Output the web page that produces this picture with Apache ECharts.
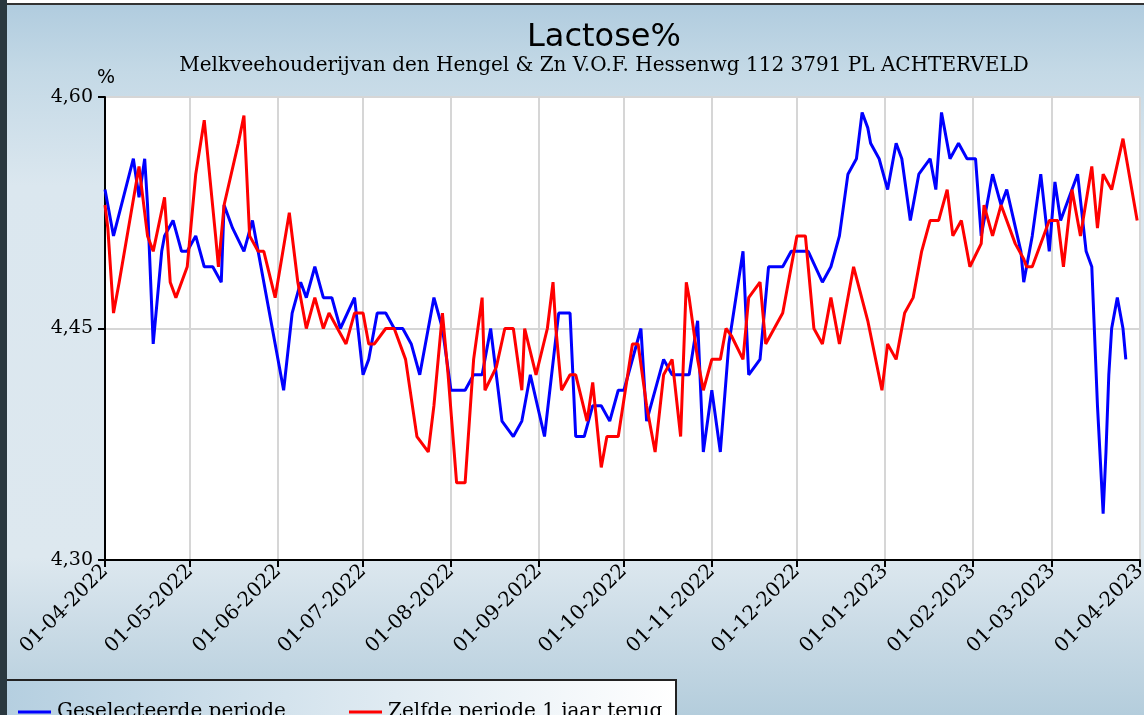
<!DOCTYPE html>
<html><head><meta charset="utf-8">
<script src="https://cdn.jsdelivr.net/npm/echarts@6/dist/echarts.min.js"></script>
<style>
html,body{margin:0;padding:0;width:1144px;height:715px;overflow:hidden;}
body{background:linear-gradient(to bottom,#afcbde 0%,#c4d9e6 10%,#dbe7ef 26%,#dde8ef 78%,#cadbe6 88%,#b4cddc 100%);position:relative;}
#strip{position:absolute;left:0;top:0;width:7px;height:715px;background:#2a383f;}
#topw{position:absolute;left:7px;top:0;width:1137px;height:3px;background:#fff;}
#topl{position:absolute;left:7px;top:3px;width:1137px;height:2px;background:#333;}
#legbox{position:absolute;left:7px;top:679px;width:668px;height:40px;border-top:2px solid #222;border-right:2px solid #222;background:linear-gradient(to right,#b5cfe0,#ffffff);}
#chart{position:absolute;left:0;top:0;width:1144px;height:715px;}
</style></head><body>
<div id="strip"></div><div id="topw"></div><div id="topl"></div><div id="legbox"></div>
<div id="chart"></div>
<script>
const titleText = 'Lactose%';
const subtitleText = 'Melkveehouderijvan den Hengel & Zn V.O.F. Hessenwg 112 3791 PL ACHTERVELD';
const seriesNames = ['Geselecteerde periode', 'Zelfde periode 1 jaar terug'];
const startDate = '01-04-2022';
const endDate = '01-04-2023';
const monthTicks = ['01-04-2022','01-05-2022','01-06-2022','01-07-2022','01-08-2022','01-09-2022','01-10-2022','01-11-2022','01-12-2022','01-01-2023','01-02-2023','01-03-2023','01-04-2023'];
const yTicks = [4.30, 4.45, 4.60];

// days since 01-04-2022
const blueDays = [0,3,10,12,14,15,17,20,21,24,27,29,32,35,38,41,42,45,49,52,54,63,66,69,71,74,77,80,83,88,91,93,96,99,102,105,108,111,116,119,122,127,130,133,136,140,144,147,150,155,160,164,166,169,172,175,178,181,183,189,191,197,200,206,209,211,214,217,220,225,227,231,234,239,242,248,253,256,259,262,265,267,269,270,273,276,279,281,284,287,291,293,295,296,298,301,304,307,309,313,316,318,323,324,327,330,333,335,337,343,346,348,350,352,353,354,355,357,359,360];
const blueVals = [4.54,4.51,4.56,4.535,4.56,4.53,4.44,4.50,4.51,4.52,4.50,4.50,4.51,4.49,4.49,4.48,4.53,4.515,4.50,4.52,4.50,4.41,4.46,4.48,4.47,4.49,4.47,4.47,4.45,4.47,4.42,4.43,4.46,4.46,4.45,4.45,4.44,4.42,4.47,4.45,4.41,4.41,4.42,4.42,4.45,4.39,4.38,4.39,4.42,4.38,4.46,4.46,4.38,4.38,4.40,4.40,4.39,4.41,4.41,4.45,4.39,4.43,4.42,4.42,4.455,4.37,4.41,4.37,4.44,4.50,4.42,4.43,4.49,4.49,4.50,4.50,4.48,4.49,4.51,4.55,4.56,4.59,4.58,4.57,4.56,4.54,4.57,4.56,4.52,4.55,4.56,4.54,4.59,4.58,4.56,4.57,4.56,4.56,4.51,4.55,4.53,4.54,4.50,4.48,4.51,4.55,4.50,4.545,4.52,4.55,4.50,4.49,4.40,4.33,4.37,4.42,4.45,4.47,4.45,4.43];

const redDays = [0,1,3,5,12,13,15,17,21,23,25,29,32,35,39,40,42,47,49,51,54,56,60,65,68,71,74,77,79,82,85,88,91,93,95,99,102,106,110,114,116,119,121,124,127,130,133,134,138,141,144,147,148,152,156,158,159,161,164,166,170,172,175,177,181,186,188,191,194,197,200,203,205,206,209,211,214,217,219,221,225,227,231,233,239,244,247,250,253,256,259,264,269,274,276,279,282,285,288,291,294,297,299,302,305,309,310,313,316,321,324,325,327,331,333,336,338,341,344,348,350,352,355,359,364];
const redVals = [4.53,4.515,4.46,4.48,4.555,4.54,4.51,4.50,4.535,4.48,4.47,4.49,4.55,4.585,4.51,4.49,4.53,4.57,4.588,4.51,4.50,4.50,4.47,4.525,4.48,4.45,4.47,4.45,4.46,4.45,4.44,4.46,4.46,4.44,4.44,4.45,4.45,4.43,4.38,4.37,4.40,4.46,4.42,4.35,4.35,4.43,4.47,4.41,4.425,4.45,4.45,4.41,4.45,4.42,4.45,4.48,4.45,4.41,4.42,4.42,4.39,4.415,4.36,4.38,4.38,4.44,4.44,4.40,4.37,4.42,4.43,4.38,4.48,4.47,4.43,4.41,4.43,4.43,4.45,4.445,4.43,4.47,4.48,4.44,4.46,4.51,4.51,4.45,4.44,4.47,4.44,4.49,4.455,4.41,4.44,4.43,4.46,4.47,4.50,4.52,4.52,4.54,4.51,4.52,4.49,4.505,4.53,4.51,4.53,4.505,4.495,4.49,4.49,4.51,4.52,4.52,4.49,4.54,4.51,4.555,4.515,4.55,4.54,4.573,4.52];

function parseDMY(s){ const p = s.split('-'); return new Date(+p[2], +p[1]-1, +p[0]).getTime(); }
const DAY = 86400000;
const t0 = parseDMY(startDate);
const t1 = parseDMY(endDate);
const tickTs = monthTicks.map(parseDMY);
function build(days, vals){ return days.map((d,i)=>[t0 + d*DAY, vals[i]]); }
function fmtDate(v){
  const i = tickTs.indexOf(v); if (i >= 0) return monthTicks[i];
  const d = new Date(v); return ('0'+d.getDate()).slice(-2)+'-'+('0'+(d.getMonth()+1)).slice(-2)+'-'+d.getFullYear();
}

const serifFont = 'DejaVu Serif';
const legendText = {fontFamily: serifFont, fontSize: 20, color: '#000', padding: [0,0,0,1]};
const chart = echarts.init(document.getElementById('chart'), null, {renderer:'canvas'});
chart.setOption({
  backgroundColor: 'transparent',
  animation: false,
  title: [
    {text: titleText, left: 599, top: 17, textAlign: 'center',
     textStyle: {fontFamily: 'DejaVu Sans', fontSize: 32, fontWeight: 'normal', color: '#000'}},
    {text: subtitleText, left: 599, top: 51, textAlign: 'center',
     textStyle: {fontFamily: serifFont, fontSize: 20, fontWeight: 'normal', color: '#000'}}
  ],
  legend: [
    {left: 13, top: 697, itemWidth: 33, itemHeight: 3, icon: 'rect', textStyle: legendText, data: [seriesNames[0]]},
    {left: 344, top: 697, itemWidth: 33, itemHeight: 3, icon: 'rect', textStyle: legendText, data: [seriesNames[1]]}
  ],
  grid: {left: 105, right: 4, top: 97, bottom: 155, show: true, backgroundColor: '#fff', borderColor: '#444', borderWidth: 1, outerBoundsMode: 'none', containLabel: false},
  xAxis: {
    type: 'value', min: t0, max: t1,
    axisLine: {show: true, lineStyle: {color: '#000', width: 2}},
    axisTick: {show: true, length: 7, lineStyle: {color: '#000', width: 2}, customValues: tickTs},
    axisLabel: {customValues: tickTs, rotate: 45, margin: 8, color: '#000', fontFamily: serifFont, fontSize: 20, formatter: fmtDate},
    splitLine: {show: true, lineStyle: {color: '#d6d6d6', width: 2}}
  },
  yAxis: {
    type: 'value', min: yTicks[0], max: yTicks[yTicks.length-1],
    name: '%', nameLocation: 'end', nameGap: 0,
    nameTextStyle: {fontFamily: 'DejaVu Sans', fontSize: 19, color: '#000', align: 'left', verticalAlign: 'bottom', padding: [0,0,0,-8]},
    axisLine: {show: true, lineStyle: {color: '#000', width: 2}},
    axisTick: {show: true, length: 7, lineStyle: {color: '#000', width: 2}, customValues: yTicks},
    axisLabel: {customValues: yTicks, margin: 12, color: '#000', fontFamily: serifFont, fontSize: 19,
      formatter: v => v.toFixed(2).replace('.', ',')},
    splitLine: {show: true, lineStyle: {color: '#d6d6d6', width: 2}}
  },
  series: [
    {name: seriesNames[0], type: 'line', data: build(blueDays, blueVals), showSymbol: false, symbol: 'none',
     lineStyle: {color: '#0000ff', width: 3}, itemStyle: {color: '#0000ff'}},
    {name: seriesNames[1], type: 'line', data: build(redDays, redVals), showSymbol: false, symbol: 'none',
     lineStyle: {color: '#ff0000', width: 3}, itemStyle: {color: '#ff0000'}}
  ]
});
</script>
</body></html>
